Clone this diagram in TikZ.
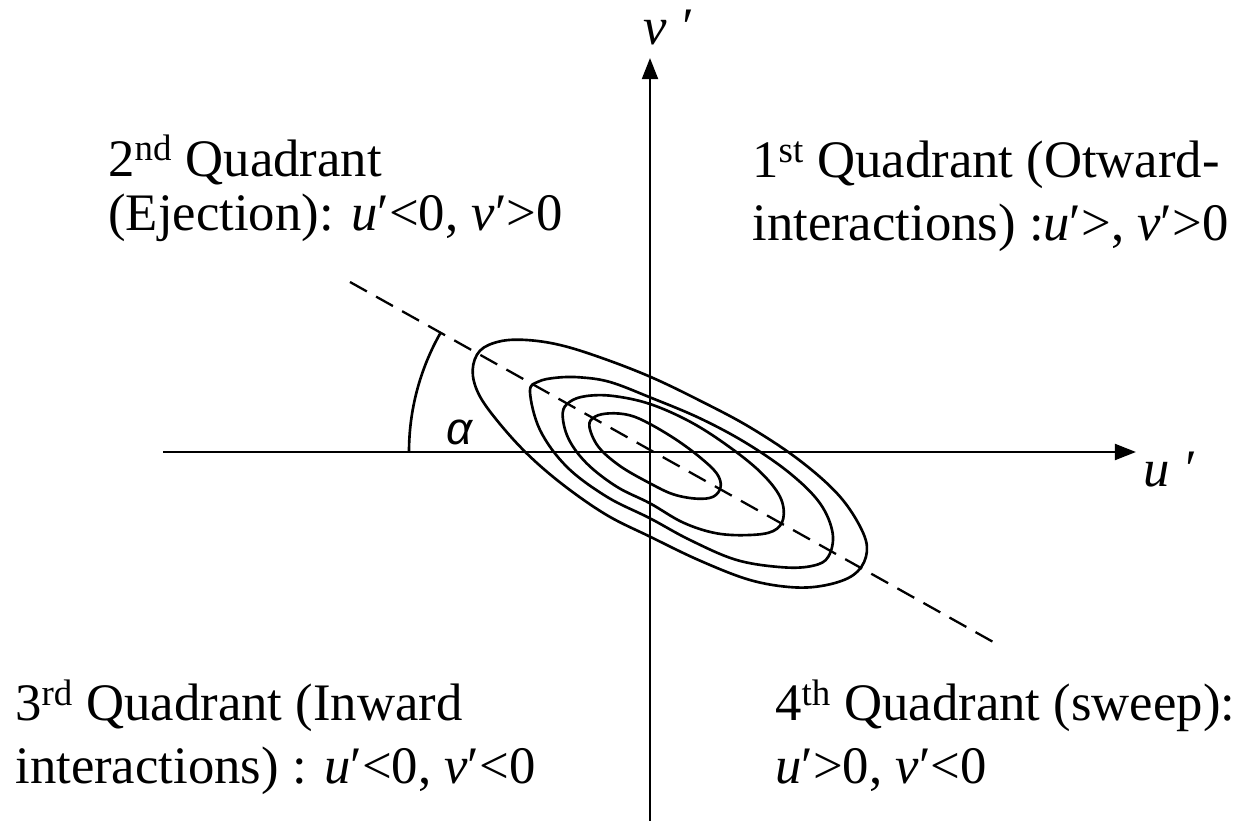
\documentclass[tikz,border=0pt]{standalone}
\usepackage{fontspec}
\setmainfont{Liberation Serif}
\newfontfamily\alphafont{Liberation Sans}
\usetikzlibrary{arrows.meta}
\begin{document}
\begin{tikzpicture}[x=0.02cm,y=-0.02cm,
  axis/.style={line width=1.5pt,-{Triangle[length=12pt,width=9pt]}},
  curve/.style={line width=1.5pt},
  diag/.style={line width=1.3pt,dash pattern=on 11pt off 6pt},
  lbl/.style={inner sep=0pt,anchor=base west,align=left,font=\fontsize{30}{35.3}\selectfont},
  axlbl/.style={inner sep=0pt,anchor=base west,font=\fontsize{30}{35}\selectfont\itshape}]
\useasboundingbox (0,0) rectangle (1238,821);
\coordinate (O) at (650,452);
\coordinate (vbot) at (650,821);
\coordinate (vtop) at (650,58);
\coordinate (hleft) at (163,452);
\coordinate (hright) at (1136,452);
\draw[axis] (vbot) -- (vtop);
\draw[axis] (hleft) -- (hright);
\node[axlbl] (vlab) at (643,45) {v ′};
\node[axlbl] (ulab) at (1143,486) {u ′};
\coordinate (d1) at (350,282);
\coordinate (d2) at (995,643);
\draw[diag] (d1) -- (d2);
\coordinate (a0) at (409,452);
\draw[curve] (a0) arc[start angle=180,end angle=209.5,radius=241];
\node[font=\alphafont\itshape\fontsize{26}{30}\selectfont,inner sep=0pt] (alpha) at (460,432) {α};
\begin{scope}[shift={(400,270)},scale=1/3]
\draw[curve] plot[smooth cycle,tension=0.6] coordinates {(218,300) (240,242) (300,214) (380,210) (480,225) (600,262) (750,320) (900,392) (1050,472) (1200,572) (1320,680) (1390,790) (1398,860) (1360,915) (1280,945) (1180,952) (1050,930) (900,872) (750,800) (620,735) (490,645) (380,550) (290,450) (235,370)};
\draw[curve] plot[smooth cycle,tension=0.6] coordinates {(390,365) (415,335) (470,323) (540,322) (630,336) (750,382) (900,445) (1040,520) (1170,610) (1260,700) (1298,790) (1285,860) (1240,887) (1150,892) (1010,870) (870,810) (750,745) (620,680) (500,590) (420,480)};
\draw[curve] plot[smooth cycle,tension=0.6] coordinates {(488,430) (510,395) (560,378) (640,378) (750,402) (870,455) (980,525) (1080,605) (1140,680) (1150,745) (1120,783) (1050,795) (950,790) (850,758) (750,700) (650,650) (560,580) (505,505)};
\draw[curve] plot[smooth cycle,tension=0.6] coordinates {(568,468) (585,440) (630,430) (690,436) (750,462) (830,510) (900,562) (950,610) (962,650) (940,680) (890,686) (820,673) (750,640) (660,588) (595,530)};
\end{scope}
\node[lbl,font=\fontsize{30}{31.3}\selectfont] (q2) at (108,231) {2\textsuperscript{nd} Quadrant\\(Ejection): \textit{u}′<0, \textit{v}′>0};
\node[lbl] (q1) at (752,240) {1\textsuperscript{st} Quadrant (Otward-\\interactions) :\textit{u}′>, \textit{v}′>0};
\node[lbl] (q3) at (15,783) {3\textsuperscript{rd} Quadrant (Inward\\interactions) : \textit{u}′<0, \textit{v}′<0};
\node[lbl] (q4) at (775,783) {4\textsuperscript{th} Quadrant (sweep):\\\textit{u}′>0, \textit{v}′<0};
\end{tikzpicture}
\end{document}
